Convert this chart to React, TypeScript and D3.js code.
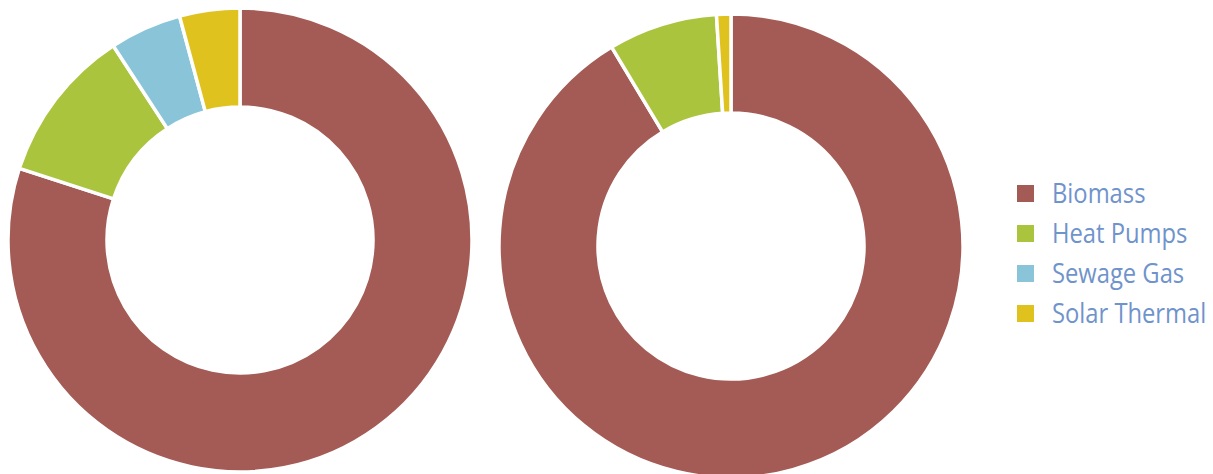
import React from "react";
import * as d3 from "d3";

const categories = ["Biomass", "Heat Pumps", "Sewage Gas", "Solar Thermal"];
const colors = ["#a45b55", "#abc43e", "#8ac4d8", "#e0c21f"];
const leftValues = [80.0, 10.8, 5.0, 4.2];
const rightValues = [91.4, 7.6, 0, 1.0];

const W = 1213;
const H = 474;

function Donut({ values, cx, cy }: { values: number[]; cx: number; cy: number }) {
  const pie = d3.pie<number>().sort(null).value((d) => d);
  const arc = d3.arc<d3.PieArcDatum<number>>().innerRadius(133).outerRadius(232);
  const arcs = pie(values);
  return (
    <g transform={`translate(${cx},${cy})`}>
      {arcs.map((a, i) =>
        a.value > 0 ? (
          <path key={i} d={arc(a) || ""} fill={colors[i]} stroke="#ffffff" strokeWidth={3.5} strokeLinejoin="miter" />
        ) : null
      )}
    </g>
  );
}

export default function App() {
  const legendY = d3.scaleBand<string>().domain(categories).range([173, 333]);
  return (
    <svg
      width={W}
      height={H}
      style={{ position: "absolute", left: 0, top: 0, display: "block", background: "#fff" }}
    >
      <Donut values={leftValues} cx={240} cy={240} />
      <Donut values={rightValues} cx={731} cy={246} />
      <g>
        {categories.map((c, i) => {
          const y = (legendY(c) || 0) + legendY.bandwidth() / 2;
          return (
            <g key={c}>
              <rect x={1017} y={y - 8} width={17} height={17} fill={colors[i]} />
              <g transform={`translate(1052,${y}) scale(0.88,1)`}>
                <text
                  x={0}
                  y={0}
                  dy="0.36em"
                  fontFamily="'Open Sans', sans-serif"
                  fontSize={27}
                  fill="#6f93cb"
                >
                  {c}
                </text>
              </g>
            </g>
          );
        })}
      </g>
    </svg>
  );
}
